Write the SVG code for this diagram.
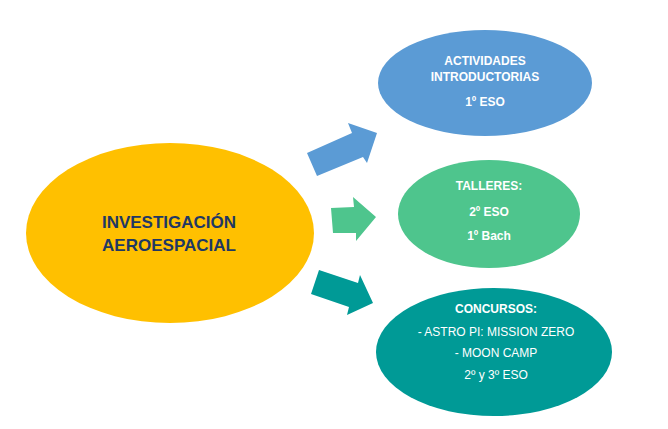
<svg xmlns="http://www.w3.org/2000/svg" width="668" height="429" viewBox="0 0 668 429">
<style>
.t{font-family:"Liberation Sans",Arial,sans-serif;text-anchor:middle;fill:#fff;font-size:12px}
.b{font-weight:bold}
.title{font-family:"Liberation Sans",Arial,sans-serif;text-anchor:middle;fill:#1F3864;font-size:17px;font-weight:bold}
</style>
<rect width="668" height="429" fill="#fff"/>
<g id="main">
<ellipse cx="170" cy="233" rx="144" ry="90" fill="#FFC000"/>
<text class="title" x="169" y="228">INVESTIGACIÓN</text>
<text class="title" x="169" y="251">AEROESPACIAL</text>
</g>
<g id="actividades">
<ellipse cx="485" cy="83" rx="107" ry="53" fill="#5B9BD5"/>
<text class="t b" x="485" y="65">ACTIVIDADES</text>
<text class="t b" x="485" y="81">INTRODUCTORIAS</text>
<text class="t b" x="485" y="106">1º ESO</text>
</g>
<g id="talleres">
<ellipse cx="489" cy="214" rx="91" ry="54" fill="#4EC58D"/>
<text class="t b" x="489" y="190">TALLERES:</text>
<text class="t b" x="489" y="216">2º ESO</text>
<text class="t b" x="489" y="240">1º Bach</text>
</g>
<g id="concursos">
<ellipse cx="494" cy="352" rx="118" ry="64" fill="#009A96"/>
<text class="t b" x="496" y="313">CONCURSOS:</text>
<text class="t" x="496" y="336">- ASTRO PI: MISSION ZERO</text>
<text class="t" x="496" y="357">- MOON CAMP</text>
<text class="t" x="496" y="379">2º y 3º ESO</text>
</g>
<g id="connectors">
<polygon points="307,153 352,133 348,123 377,133 367,163 363,157 317,176" fill="#5B9BD5"/>
<polygon points="331,208 354,207 353,197 376,217 356,241 356,233 333,233" fill="#4EC58D"/>
<polygon points="319,270 358,283 360,275 373,303 347,315 349,307 311,294" fill="#009A96"/>
</g>
</svg>
